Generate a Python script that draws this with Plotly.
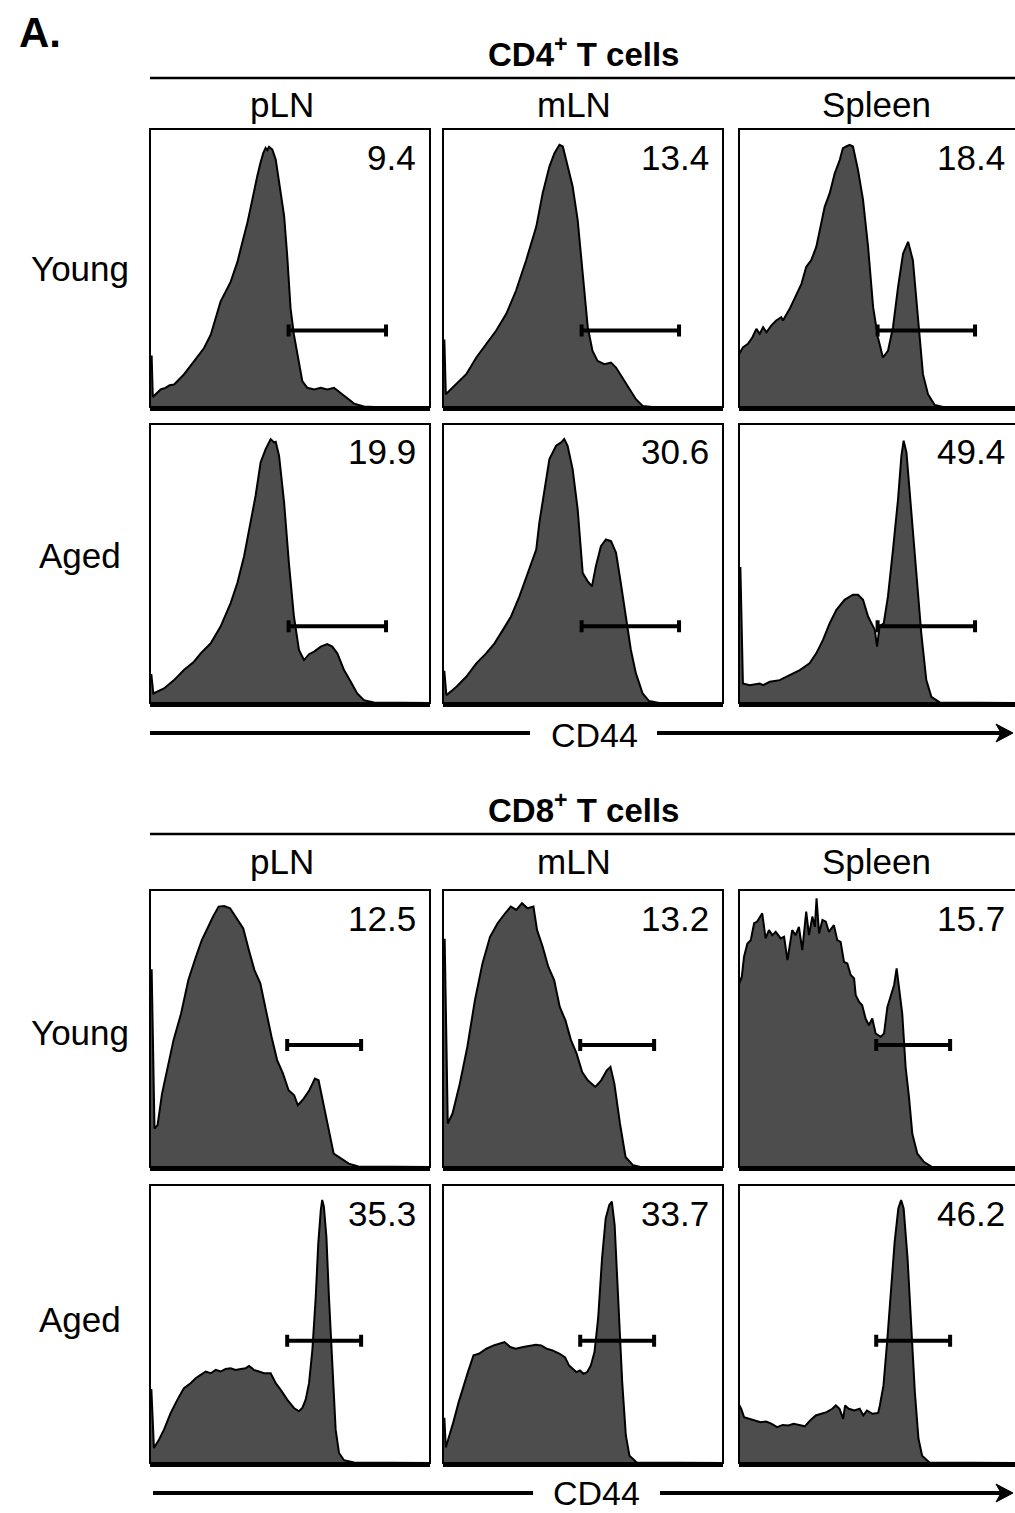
import plotly.graph_objects as go

# ---------------- data (CD44 channel 0-100, % of max count) ----------------
tissues = ["pLN", "mLN", "Spleen"]
ages = ["Young", "Aged"]
titles = ["CD4<sup>+</sup> T cells", "CD8<sup>+</sup> T cells"]
axis_label = "CD44"

pct_cd4 = [["9.4", "13.4", "18.4"], ["19.9", "30.6", "49.4"]]
pct_cd8 = [["12.5", "13.2", "15.7"], ["35.3", "33.7", "46.2"]]

gate_cd4 = [49.5, 84.3]
gate_cd4_level = 27.5
gate_cd8 = [49.0, 75.4]
gate_cd8_level = 44.0

cd44_cd4_young_pln = [0, 0.6, 1.0, 3.8, 5.5, 7.0, 8.6, 12.1, 15.7, 19.3, 21.7, 25.2, 28.8, 31.2, 32.4, 33.6, 34.8, 36.0, 37.2, 38.3, 39.5, 40.5, 41.3, 41.9, 42.5, 43.7, 44.9, 46.1, 47.9, 49.0, 50.2, 51.4, 52.6, 54.4, 56.2, 58.6, 61.0, 63.3, 65.7, 68.1, 70.5, 72.9, 76.4, 80.0, 100]
count_cd4_young_pln = [18.2, 18.2, 3.6, 6.3, 6.9, 7.8, 8.1, 11.7, 16.4, 21.2, 26.0, 37.9, 45.0, 52.1, 56.9, 61.5, 66.4, 72.0, 78.0, 83.0, 88.0, 91.5, 93.2, 92.4, 93.6, 92.6, 89.0, 80.7, 68.8, 54.5, 35.5, 26.0, 18.8, 9.3, 6.9, 6.3, 6.9, 6.3, 6.9, 5.1, 3.3, 1.2, 0.2, 0, 0]

cd44_cd4_young_mln = [0, 0.5, 1.0, 4.8, 8.3, 11.9, 15.4, 19.0, 22.6, 26.1, 29.7, 33.3, 35.6, 38.0, 39.8, 41.6, 42.8, 43.9, 46.3, 48.1, 49.9, 51.7, 53.4, 55.2, 57.6, 60.0, 61.8, 64.1, 66.5, 68.9, 71.3, 74.8, 100]
count_cd4_young_mln = [23.9, 23.9, 4.6, 8.2, 11.8, 17.8, 22.7, 27.5, 33.5, 41.9, 52.8, 64.8, 76.9, 86.5, 91.3, 94.3, 93.7, 88.9, 79.3, 67.2, 48.0, 28.7, 20.2, 16.6, 15.4, 16.0, 14.2, 10.6, 7.0, 2.8, 0.4, 0, 0]

cd44_cd4_young_spl = [0, 1.4, 3.2, 4.8, 6.2, 7.4, 8.6, 9.8, 11.5, 13.3, 15.1, 15.7, 18.1, 20.5, 22.3, 24.0, 25.8, 27.6, 28.8, 30.6, 32.4, 34.2, 36.0, 37.1, 38.3, 39.5, 40.7, 42.5, 44.3, 46.1, 47.9, 49.6, 51.4, 53.2, 55.0, 56.8, 58.6, 60.4, 62.1, 63.9, 65.7, 67.5, 69.9, 72.9, 100]
count_cd4_young_spl = [19.0, 21.4, 22.7, 25.1, 28.1, 26.3, 28.7, 26.9, 29.3, 31.1, 32.3, 31.1, 35.3, 40.7, 44.3, 50.4, 52.8, 57.6, 63.6, 72.0, 76.9, 84.1, 88.9, 93.1, 93.7, 94.3, 93.7, 85.3, 74.5, 57.6, 35.9, 25.1, 17.8, 20.2, 28.7, 43.1, 55.2, 59.4, 52.8, 31.1, 11.8, 4.6, 0.7, 0, 0]

cd44_cd4_aged_pln = [0, 0.5, 1.2, 5.0, 8.6, 12.1, 15.7, 18.1, 21.7, 25.2, 28.8, 31.2, 33.6, 36.0, 37.7, 39.5, 41.3, 43.1, 44.3, 44.9, 46.1, 47.9, 49.6, 51.4, 53.2, 55.0, 56.8, 58.6, 61.0, 63.3, 65.1, 66.9, 69.3, 71.7, 74.0, 76.4, 80.0, 100]
count_cd4_aged_pln = [10.0, 10.0, 3.4, 5.2, 8.2, 11.8, 14.8, 17.8, 21.4, 27.4, 35.8, 43.0, 52.6, 64.6, 74.2, 86.2, 91.0, 94.6, 93.4, 93.6, 88.6, 71.8, 50.2, 31.0, 19.0, 15.4, 17.5, 18.4, 20.2, 21.1, 20.2, 17.8, 11.8, 7.6, 3.4, 1.0, 0.2, 0]

cd44_cd4_aged_mln = [0, 0.5, 1.2, 4.8, 8.3, 11.9, 15.4, 18.4, 21.4, 24.3, 27.3, 30.3, 33.3, 34.4, 36.2, 38.0, 40.4, 42.2, 43.3, 44.5, 46.3, 48.1, 49.9, 51.7, 53.2, 54.6, 56.4, 58.2, 60.0, 61.8, 63.5, 65.3, 67.1, 68.9, 71.3, 73.6, 77.2, 100]
count_cd4_aged_mln = [11.2, 11.2, 2.8, 5.8, 9.4, 14.2, 17.8, 21.4, 26.2, 31.0, 38.2, 46.6, 55.0, 64.6, 76.6, 87.4, 92.2, 93.4, 94.6, 92.2, 83.8, 69.4, 46.6, 43.6, 41.8, 49.0, 56.2, 58.6, 58.0, 53.8, 43.0, 31.0, 19.0, 10.6, 3.4, 0.7, 0, 0]

cd44_cd4_aged_spl = [0, 0.5, 1.4, 3.8, 7.4, 8.6, 11.0, 14.5, 18.1, 21.7, 25.2, 27.6, 30.0, 32.4, 34.8, 37.7, 40.7, 42.5, 44.3, 46.1, 47.3, 48.5, 49.3, 50.2, 51.7, 53.2, 55.0, 56.8, 58.0, 58.8, 59.8, 61.5, 63.3, 65.1, 66.9, 68.7, 71.7, 100]
count_cd4_aged_spl = [48.4, 48.4, 7.0, 6.4, 7.0, 6.4, 7.6, 8.2, 10.0, 11.8, 14.2, 17.8, 22.6, 28.6, 33.4, 37.0, 38.8, 38.8, 37.0, 31.0, 28.6, 26.2, 20.2, 27.4, 28.6, 38.2, 55.0, 73.0, 88.6, 94.0, 89.8, 69.4, 49.0, 25.0, 8.2, 2.2, 0.2, 0]

cd44_cd8_young_pln = [0, 0.6, 1.6, 2.7, 4.3, 6.3, 8.4, 11.1, 13.7, 16.4, 18.5, 20.5, 22.5, 24.5, 26.5, 28.6, 30.6, 31.9, 33.3, 35.3, 37.3, 39.4, 41.4, 43.4, 45.4, 47.5, 49.5, 51.5, 52.8, 54.9, 56.9, 58.9, 60.2, 61.6, 63.6, 65.6, 68.3, 71.0, 74.4, 100]
count_cd8_young_pln = [71.0, 71.0, 13.9, 15.1, 26.5, 36.1, 45.8, 55.4, 67.5, 75.9, 81.9, 86.1, 90.4, 94.0, 94.2, 93.4, 90.4, 88.0, 86.1, 78.3, 71.1, 66.3, 56.6, 47.0, 38.6, 33.7, 27.7, 25.9, 22.3, 24.7, 27.7, 31.9, 31.3, 24.1, 14.5, 4.8, 3.0, 1.2, 0.2, 0]

cd44_cd8_young_mln = [0, 0.6, 1.7, 3.4, 6.0, 8.7, 11.4, 14.1, 16.8, 19.5, 22.2, 24.2, 26.2, 28.2, 30.2, 32.3, 33.6, 35.6, 37.6, 39.7, 41.7, 43.7, 45.7, 47.7, 49.7, 51.7, 54.4, 56.5, 58.5, 59.8, 61.2, 63.2, 65.2, 67.9, 70.6, 100]
count_cd8_young_mln = [82.0, 82.0, 15.7, 19.3, 30.1, 43.4, 60.2, 73.5, 83.1, 88.0, 91.6, 94.0, 92.8, 95.2, 93.4, 94.0, 85.5, 79.5, 72.3, 67.5, 57.8, 53.0, 45.8, 41.0, 34.3, 31.3, 28.9, 31.3, 34.9, 36.1, 30.1, 15.7, 3.6, 0.6, 0, 0]

cd44_cd8_young_spl = [0, 1.0, 1.8, 3.0, 4.2, 5.4, 6.5, 8.3, 9.5, 10.7, 11.9, 13.1, 14.9, 16.1, 17.3, 19.0, 20.2, 21.4, 22.6, 24.0, 25.0, 26.2, 27.1, 27.7, 28.6, 29.8, 31.0, 32.1, 33.9, 35.1, 36.3, 37.5, 38.7, 39.9, 41.1, 41.7, 42.9, 44.0, 45.2, 46.4, 47.6, 48.8, 50.6, 51.8, 53.0, 54.2, 55.4, 56.3, 57.1, 58.3, 59.5, 60.7, 61.9, 63.7, 66.1, 69.0, 100]
count_cd8_young_spl = [66.0, 68.7, 75.9, 80.7, 81.9, 88.0, 88.6, 91.6, 82.5, 85.5, 83.7, 84.9, 82.5, 83.1, 74.7, 85.5, 83.7, 86.7, 78.3, 92.2, 83.7, 90.4, 86.7, 97.0, 84.3, 89.2, 88.6, 84.9, 87.3, 81.9, 81.3, 74.0, 73.5, 69.3, 68.1, 62.0, 59.6, 58.4, 53.6, 51.2, 53.6, 48.2, 47.0, 48.2, 57.8, 62.0, 65.7, 71.7, 65.1, 55.4, 36.1, 25.3, 12.0, 4.8, 1.8, 0, 0]

cd44_cd8_aged_pln = [0, 0.5, 1.4, 3.2, 5.0, 7.4, 9.8, 12.1, 14.5, 16.3, 18.1, 19.9, 21.7, 23.5, 25.2, 27.0, 28.8, 30.6, 32.4, 34.2, 35.4, 37.1, 38.9, 40.7, 43.1, 44.9, 46.7, 49.0, 51.4, 53.2, 54.4, 55.6, 56.8, 58.0, 59.2, 60.1, 61.0, 61.5, 62.1, 63.0, 63.9, 65.1, 66.3, 67.5, 69.3, 72.9, 100]
count_cd8_aged_pln = [26.3, 26.3, 5.4, 8.4, 12.0, 18.0, 22.8, 26.9, 28.7, 30.5, 31.7, 32.9, 32.3, 33.5, 32.9, 33.8, 34.1, 33.5, 33.8, 34.1, 34.9, 33.5, 32.9, 32.3, 32.3, 28.7, 26.3, 22.8, 19.8, 18.6, 19.8, 22.8, 28.7, 40.7, 59.9, 79.0, 91.0, 94.6, 92.2, 81.4, 59.9, 33.5, 12.0, 3.6, 1.0, 0.2, 0]

cd44_cd8_aged_mln = [0, 0.5, 1.0, 2.4, 3.7, 5.6, 7.0, 8.9, 10.9, 12.8, 15.5, 18.1, 20.1, 22.0, 24.0, 26.0, 28.6, 31.2, 33.2, 35.1, 37.1, 39.1, 41.7, 43.6, 45.0, 46.3, 47.6, 48.9, 50.2, 51.5, 52.8, 54.1, 55.4, 56.8, 58.1, 59.4, 60.3, 61.3, 62.6, 64.0, 65.3, 66.6, 69.2, 100]
count_cd8_aged_mln = [15.9, 15.9, 5.6, 9.9, 14.7, 21.9, 26.7, 32.7, 38.7, 39.3, 41.1, 42.3, 42.9, 43.5, 41.7, 41.1, 41.7, 42.3, 42.5, 42.3, 41.1, 40.5, 39.3, 38.0, 35.1, 33.9, 32.7, 33.3, 32.1, 32.7, 35.1, 39.9, 51.9, 73.6, 88.0, 92.8, 94.0, 85.6, 55.5, 29.1, 9.9, 2.6, 0.2, 0]

cd44_cd8_aged_spl = [0, 0.8, 1.8, 3.8, 5.8, 7.7, 9.7, 11.7, 13.6, 15.6, 17.6, 19.5, 21.5, 23.5, 25.4, 27.4, 29.4, 31.3, 33.3, 34.6, 35.9, 37.2, 37.9, 39.2, 41.2, 43.1, 44.4, 45.7, 47.7, 49.7, 50.3, 51.6, 52.9, 54.3, 55.6, 56.9, 57.9, 58.8, 60.2, 61.5, 62.8, 64.1, 65.4, 68.0, 100]
count_cd8_aged_spl = [21.0, 19.5, 16.5, 15.9, 15.3, 14.7, 14.9, 14.1, 12.9, 13.7, 13.5, 14.1, 13.7, 13.2, 15.3, 17.1, 17.7, 18.3, 19.5, 20.7, 19.5, 15.9, 20.7, 19.5, 18.9, 19.5, 17.1, 18.9, 17.7, 18.0, 20.7, 27.9, 43.5, 61.5, 79.6, 91.6, 94.6, 91.6, 73.6, 49.5, 25.5, 8.7, 2.6, 0.2, 0]

hist_rows = [
    [(cd44_cd4_young_pln, count_cd4_young_pln), (cd44_cd4_young_mln, count_cd4_young_mln), (cd44_cd4_young_spl, count_cd4_young_spl)],
    [(cd44_cd4_aged_pln, count_cd4_aged_pln), (cd44_cd4_aged_mln, count_cd4_aged_mln), (cd44_cd4_aged_spl, count_cd4_aged_spl)],
    [(cd44_cd8_young_pln, count_cd8_young_pln), (cd44_cd8_young_mln, count_cd8_young_mln), (cd44_cd8_young_spl, count_cd8_young_spl)],
    [(cd44_cd8_aged_pln, count_cd8_aged_pln), (cd44_cd8_aged_mln, count_cd8_aged_mln), (cd44_cd8_aged_spl, count_cd8_aged_spl)],
]
pct_rows = [pct_cd4[0], pct_cd4[1], pct_cd8[0], pct_cd8[1]]
gate_rows = [(gate_cd4, gate_cd4_level), (gate_cd4, gate_cd4_level), (gate_cd8, gate_cd8_level), (gate_cd8, gate_cd8_level)]

for row in hist_rows:
    for xs, ys in row:
        assert len(xs) == len(ys), (len(xs), len(ys))

# ---------------- layout helpers (pixels -> paper) ----------------
W, H = 1015, 1513
FONT = "Liberation Sans, Arial, Helvetica, sans-serif"
FILL = "#4d4d4d"
TXT = 35


def fx(p):
    return p / W


def fy(p):
    return 1 - p / H


col_px = [(150, 430), (443, 723), (739, 1019)]
row_px = [(129, 407), (424, 703), (890, 1167), (1185, 1463)]

fig = go.Figure()
layout = dict(
    width=W, height=H,
    margin=dict(l=0, r=0, t=0, b=0),
    paper_bgcolor="white", plot_bgcolor="white",
    showlegend=False,
)
shapes = []
annotations = []

idx = 0
for r, (top, bot) in enumerate(row_px):
    gate, glevel = gate_rows[r]
    for c, (left, right) in enumerate(col_px):
        idx += 1
        xname = "x" if idx == 1 else f"x{idx}"
        yname = "y" if idx == 1 else f"y{idx}"
        xs, ys = hist_rows[r][c]
        vis_right = min(right, W)
        xmax = 100.0 * (vis_right - left) / (right - left)
        layout["xaxis" if idx == 1 else f"xaxis{idx}"] = dict(
            domain=[fx(left), fx(vis_right)], range=[0, xmax], anchor=yname,
            showticklabels=False, ticks="", showgrid=False, zeroline=False,
            showline=True, linecolor="black", linewidth=3.5, fixedrange=True,
        )
        layout["yaxis" if idx == 1 else f"yaxis{idx}"] = dict(
            domain=[fy(bot), fy(top)], range=[0, 100], anchor=xname,
            showticklabels=False, ticks="", showgrid=False, zeroline=False,
            showline=False, fixedrange=True,
        )
        fig.add_trace(go.Scatter(
            x=xs, y=ys, xaxis=xname, yaxis=yname, mode="lines",
            fill="tozeroy", fillcolor=FILL,
            line=dict(color="black", width=2), hoverinfo="skip",
        ))
        # gate bar
        fig.add_trace(go.Scatter(
            x=[(gate[0] + gate[1]) / 2], y=[glevel], xaxis=xname, yaxis=yname,
            mode="markers", marker=dict(size=1, color="rgba(0,0,0,0)"),
            error_x=dict(type="data", array=[(gate[1] - gate[0]) / 2], symmetric=True,
                         color="black", thickness=4, width=6),
            hoverinfo="skip",
        ))
        # panel frame
        shapes.append(dict(type="rect", xref="paper", yref="paper",
                           x0=fx(left), x1=fx(right), y0=fy(bot), y1=fy(top),
                           line=dict(color="black", width=2)))
        # percentage
        annotations.append(dict(
            text=pct_rows[r][c], xref="paper", yref="paper",
            x=fx(right - 12), y=fy(top + 28), xanchor="right", yanchor="middle",
            showarrow=False, font=dict(family=FONT, size=TXT, color="black"),
        ))

# group headers
header_sets = [
    dict(title_y=52, line_y=78, tissue_y=105, rows=[(269, 0), (555, 1)], arrow_y=733,
         seg=(150, 530), arr=(657, 1013), label_x=594, label_y=735),
    dict(title_y=808, line_y=834, tissue_y=861, rows=[(1032, 0), (1319, 1)], arrow_y=1493,
         seg=(153, 533), arr=(660, 1013), label_x=596, label_y=1493),
]
tissue_x = [282, 574, 876]
for g, hs in enumerate(header_sets):
    annotations.append(dict(
        text="<b>" + titles[g] + "</b>", xref="paper", yref="paper",
        x=fx(583), y=fy(hs["title_y"]), xanchor="center", yanchor="middle",
        showarrow=False, font=dict(family=FONT, size=33, color="black"),
    ))
    shapes.append(dict(type="line", xref="paper", yref="paper",
                       x0=fx(150), x1=fx(1015), y0=fy(hs["line_y"]), y1=fy(hs["line_y"]),
                       line=dict(color="black", width=2.5)))
    for t, tx in zip(tissues, tissue_x):
        annotations.append(dict(
            text=t, xref="paper", yref="paper", x=fx(tx), y=fy(hs["tissue_y"]),
            xanchor="center", yanchor="middle", showarrow=False,
            font=dict(family=FONT, size=TXT, color="black"),
        ))
    for ry, ai in hs["rows"]:
        annotations.append(dict(
            text=ages[ai], xref="paper", yref="paper", x=fx(80), y=fy(ry),
            xanchor="center", yanchor="middle", showarrow=False,
            font=dict(family=FONT, size=TXT, color="black"),
        ))
    # CD44 arrow: left segment, right segment and a barbed head
    ay_ = hs["arrow_y"]
    tip = hs["arr"][1]
    shapes.append(dict(type="line", xref="paper", yref="paper",
                       x0=fx(hs["seg"][0]), x1=fx(hs["seg"][1]), y0=fy(ay_), y1=fy(ay_),
                       line=dict(color="black", width=4)))
    shapes.append(dict(type="line", xref="paper", yref="paper",
                       x0=fx(hs["arr"][0]), x1=fx(tip - 8), y0=fy(ay_), y1=fy(ay_),
                       line=dict(color="black", width=4)))
    head = (f"M {fx(tip)} {fy(ay_)} L {fx(tip - 17)} {fy(ay_ - 9)} "
            f"L {fx(tip - 12)} {fy(ay_)} L {fx(tip - 17)} {fy(ay_ + 9)} Z")
    shapes.append(dict(type="path", xref="paper", yref="paper", path=head,
                       fillcolor="black", line=dict(color="black", width=1)))
    annotations.append(dict(
        text=axis_label, xref="paper", yref="paper", x=fx(hs["label_x"]), y=fy(hs["label_y"]),
        xanchor="center", yanchor="middle", showarrow=False,
        font=dict(family=FONT, size=34, color="black"),
    ))

annotations.append(dict(
    text="<b>A.</b>", xref="paper", yref="paper", x=fx(40), y=fy(32),
    xanchor="center", yanchor="middle", showarrow=False,
    font=dict(family=FONT, size=42, color="black"),
))

layout["shapes"] = shapes
layout["annotations"] = annotations
fig.update_layout(**layout)
fig.write_html(
    "out.html",
    config={"displayModeBar": False},
    post_script="document.body.style.margin='0px';document.body.style.padding='0px';",
)
